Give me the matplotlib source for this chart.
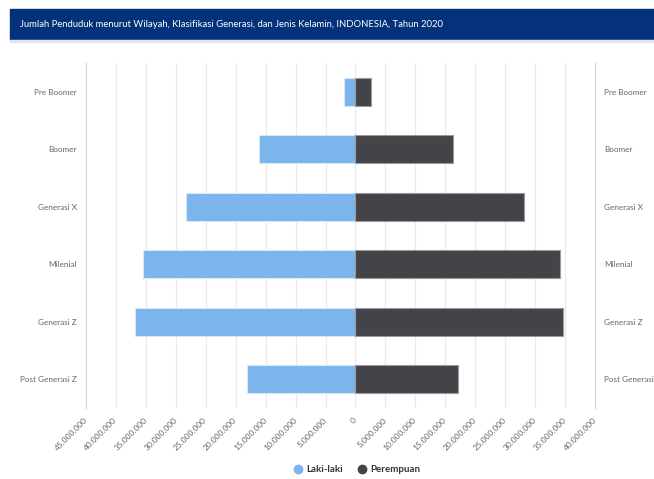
import matplotlib.pyplot as plt
from matplotlib.patches import Rectangle
from matplotlib.lines import Line2D
import numpy as np

# data (millions of people)
generasi = ['Pre Boomer', 'Boomer', 'Generasi X', 'Milenial', 'Generasi Z', 'Post Generasi Z']
laki_laki = [1.94, 16.05, 28.3, 35.4, 36.8, 18.06]
perempuan = [2.56, 16.3, 28.2, 34.2, 34.6, 17.2]
tick_vals = [-45, -40, -35, -30, -25, -20, -15, -10, -5, 0, 5, 10, 15, 20, 25, 30, 35, 40]

W, H = 654, 479
plt.rcParams['font.family'] = ['Lato', 'DejaVu Sans']

fig = plt.figure(figsize=(W / 100, H / 100), dpi=100)

# title banner
fig.patches.append(Rectangle((10 / W, 1 - 40 / H), 1 - 10 / W, 31 / H,
                             transform=fig.transFigure, color='#04327a', zorder=0))
fig.patches.append(Rectangle((10 / W, 1 - 42 / H), 1 - 10 / W, 2 / H,
                             transform=fig.transFigure, color='#dfe6f0', zorder=0))
fig.text(20 / W, 1 - 24.5 / H,
         'Jumlah Penduduk menurut Wilayah, Klasifikasi Generasi, dan Jenis Kelamin, INDONESIA, Tahun 2020',
         color='white', fontsize=6.8, va='center', ha='left')

ax = fig.add_axes([86 / W, 1 - 408 / H, (595 - 86) / W, (408 - 63) / H])
y = np.arange(len(generasi))
male = np.array(laki_laki) * 1e6
female = np.array(perempuan) * 1e6

ax.barh(y, -male, height=0.48, color='#7cb5ec', edgecolor='#d6e8f8', linewidth=0.8, zorder=3)
ax.barh(y, female, height=0.48, color='#434348', edgecolor='#9a9a9e', linewidth=0.8, zorder=3)

ax.set_xlim(-45e6, 40e6)
ax.set_ylim(len(generasi) - 0.5, -0.5)

ticks = np.array(tick_vals) * 1e6
ax.set_xticks(ticks)
ax.set_xticklabels(['{:,}'.format(abs(int(t))).replace(',', '.') for t in ticks],
                   rotation=45, ha='right', va='center', rotation_mode='anchor',
                   fontsize=6.0, color='#666666')
ax.tick_params(axis='x', length=0, pad=8)
for t in ticks[1:-1]:
    ax.axvline(t, color='#ebebeb', linewidth=0.9, zorder=1)

ax.set_yticks(y)
ax.set_yticklabels(generasi, fontsize=5.9, color='#666666')
ax.tick_params(axis='y', length=0, pad=6.5, labelright=True)

for side in ['top', 'bottom']:
    ax.spines[side].set_visible(False)
for side in ['left', 'right']:
    ax.spines[side].set_color('#ccd6eb')
    ax.spines[side].set_linewidth(0.9)

handles = [Line2D([], [], marker='o', linestyle='', markersize=6, color='#7cb5ec'),
           Line2D([], [], marker='o', linestyle='', markersize=6, color='#434348')]
leg = fig.legend(handles, ['Laki-laki', 'Perempuan'], loc='center',
                 bbox_to_anchor=(357 / W, 1 - 470 / H), ncol=2, frameon=False,
                 handlelength=0.8, handletextpad=0.4, columnspacing=1.6,
                 prop={'size': 7.0, 'weight': 'bold'})
for txt in leg.get_texts():
    txt.set_color('#333333')

fig.savefig('out.png', dpi=100)
